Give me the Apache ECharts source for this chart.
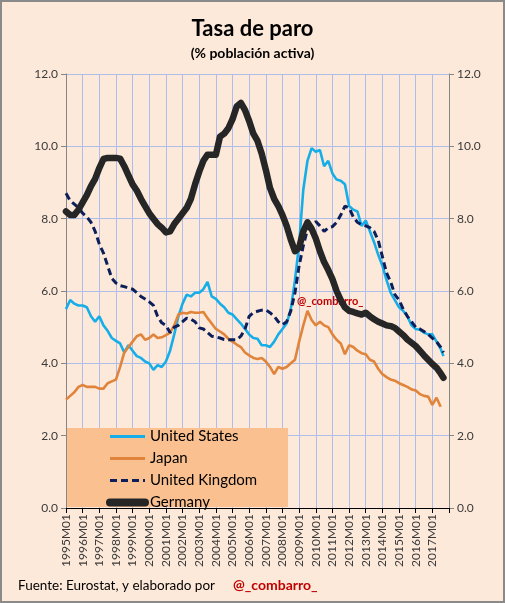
<!DOCTYPE html>
<html>
<head>
<meta charset="utf-8">
<script src="https://cdn.jsdelivr.net/npm/echarts@6/dist/echarts.min.js"></script>
<style>
html,body{margin:0;padding:0;background:#FDE9D9;}
#chart{width:505px;height:603px;}
</style>
</head>
<body>
<div id="chart"></div>
<script>
// Sample months (quarterly readings from the picture)
const months = [];
for (let y = 1995; y <= 2017; y++) {
  ['01','04','07','10'].forEach(function (mm) {
    if (y === 2017 && mm === '10') return;
    months.push(y + 'M' + mm);
  });
}
months.push('2017M09');

const unitedStates = [
  5.5,5.75,5.65,5.6, 5.6,5.55,5.3,5.15, 5.3,5.05,4.9,4.7, 4.62,4.55,4.3,4.5,
  4.35,4.2,4.15,4.05, 4.0,3.82,3.95,3.9, 4.05,4.35,4.8,5.3, 5.65,5.9,5.85,5.95,
  5.95,6.05,6.25,5.85, 5.78,5.65,5.55,5.4, 5.35,5.22,5.1,4.95, 4.8,4.7,4.68,4.5,
  4.5,4.45,4.6,4.8, 4.95,5.1,5.5,6.3, 7.3,8.8,9.6,9.95, 9.85,9.9,9.45,9.6,
  9.25,9.08,9.05,8.95, 8.35,8.25,8.2,7.8, 7.95,7.65,7.35,7.0, 6.7,6.3,5.95,5.75,
  5.55,5.45,5.3,5.05, 4.95,4.93,4.85,4.8, 4.8,4.6,4.4, 4.2
];
const japan = [
  3.0,3.1,3.2,3.35, 3.4,3.35,3.35,3.35, 3.3,3.3,3.45,3.5, 3.55,3.9,4.3,4.45,
  4.6,4.75,4.8,4.65, 4.7,4.8,4.7,4.72, 4.78,4.85,5.05,5.35, 5.4,5.38,5.42,5.4,
  5.4,5.42,5.25,5.1, 4.95,4.88,4.8,4.68, 4.6,4.52,4.45,4.3, 4.22,4.15,4.12,4.15,
  4.05,3.9,3.7,3.9, 3.85,3.9,4.0,4.1, 4.6,5.05,5.45,5.2, 5.05,5.15,5.05,5.0,
  4.8,4.65,4.55,4.25, 4.5,4.45,4.35,4.28, 4.25,4.1,4.05,3.85, 3.7,3.62,3.55,3.52,
  3.45,3.4,3.35,3.28, 3.25,3.15,3.1,3.08, 2.85,3.05,2.8, null
];
const unitedKingdom = [
  8.7,8.5,8.4,8.3, 8.15,8.05,7.9,7.65, 7.3,7.05,6.7,6.35, 6.22,6.15,6.12,6.08,
  6.05,5.95,5.85,5.78, 5.7,5.6,5.3,5.12, 5.05,4.85,5.0,5.05, 5.15,5.25,5.22,5.15,
  4.98,4.95,4.85,4.75, 4.73,4.7,4.66,4.65, 4.65,4.65,4.75,4.95, 5.3,5.4,5.44,5.47,
  5.48,5.4,5.3,5.15, 5.07,5.15,5.45,5.95, 6.7,7.25,7.7,7.8, 7.92,7.8,7.65,7.75,
  7.78,7.9,8.1,8.35, 8.3,8.05,7.9,7.83, 7.8,7.75,7.65,7.4, 6.95,6.5,6.25,5.9,
  5.75,5.5,5.3,5.15, 5.0,4.95,4.88,4.8, 4.7,4.6,4.45, 4.3
];
const germany = [
  8.2,8.1,8.1,8.25, 8.45,8.65,8.9,9.1, 9.4,9.65,9.68,9.68, 9.68,9.66,9.45,9.2,
  8.95,8.78,8.55,8.35, 8.15,8.0,7.85,7.75, 7.62,7.65,7.85,8.0, 8.15,8.3,8.55,8.95,
  9.3,9.6,9.77,9.77, 9.77,10.27,10.35,10.5, 10.75,11.1,11.2,11.0, 10.7,10.35,10.15,9.8,
  9.35,8.85,8.55,8.35, 8.1,7.8,7.42,7.1, 7.2,7.65,7.9,7.72, 7.45,7.1,6.8,6.58,
  6.33,6.0,5.75,5.55, 5.45,5.42,5.38,5.35, 5.4,5.3,5.22,5.15, 5.1,5.05,5.03,4.98,
  4.88,4.78,4.66,4.57, 4.48,4.35,4.22,4.1, 3.98,3.88,3.72, 3.6
];
const seriesNames = ['United States', 'Japan', 'United Kingdom', 'Germany'];
const yTicks = [0, 2, 4, 6, 8, 10, 12];
const firstYear = 1995;

function monthIndex(label) {
  const y = parseInt(label.slice(0, 4), 10);
  const m = parseInt(label.slice(5), 10);
  return (y - firstYear) * 12 + (m - 1);
}
function pairs(values) {
  return months.map(function (lab, i) { return [monthIndex(lab), values[i]]; });
}

const FONT = 'Lato, "Open Sans", sans-serif';
const gridColor = '#aebde9';
const colors = ['#16aee8', '#e0843c', '#0c1f5a', '#262626'];

const chart = echarts.init(document.getElementById('chart'), null, {renderer: 'canvas'});
chart.setOption({
  backgroundColor: '#FDE9D9',
  animation: false,
  textStyle: {fontFamily: FONT},
  title: {
    text: 'Tasa de paro',
    subtext: '(% población activa)',
    left: 'center',
    top: 13,
    itemGap: 6,
    textStyle: {fontFamily: FONT, fontSize: 22, fontWeight: 'bold', color: '#000'},
    subtextStyle: {fontFamily: FONT, fontSize: 14, fontWeight: 'bold', color: '#000'}
  },
  grid: {left: 66, right: 56, top: 74, bottom: 95, containLabel: false},
  xAxis: {
    type: 'value',
    min: 0,
    max: 276,
    interval: 12,
    axisLine: {show: true, onZero: false, lineStyle: {color: '#000', width: 1}},
    axisTick: {show: true, inside: false, length: 5, lineStyle: {color: '#000'}},
    splitLine: {show: true, lineStyle: {color: gridColor, width: 1}},
    axisLabel: {
      rotate: 90,
      margin: 6,
      fontSize: 12,
      color: '#3a3a3a',
      fontFamily: FONT,
      formatter: function (v) {
        if (v >= 276) return '';
        return (firstYear + Math.round(v / 12)) + 'M01';
      }
    }
  },
  yAxis: [
    {
      type: 'value', min: yTicks[0], max: yTicks[yTicks.length - 1], interval: 2,
      position: 'left',
      axisLine: {show: true, lineStyle: {color: '#868686'}},
      axisTick: {show: true, length: 5, lineStyle: {color: '#868686'}},
      splitLine: {show: true, lineStyle: {color: gridColor, width: 1}},
      axisLabel: {fontSize: 12, color: '#3a3a3a', margin: 8, fontFamily: FONT,
        formatter: function (v) { return v.toFixed(1); }}
    },
    {
      type: 'value', min: yTicks[0], max: yTicks[yTicks.length - 1], interval: 2,
      position: 'right',
      axisLine: {show: true, lineStyle: {color: '#868686'}},
      axisTick: {show: true, length: 5, lineStyle: {color: '#868686'}},
      splitLine: {show: false},
      axisLabel: {fontSize: 12, color: '#3a3a3a', margin: 8, fontFamily: FONT,
        formatter: function (v) { return v.toFixed(1); }}
    }
  ],
  legend: {
    orient: 'vertical',
    left: 106,
    top: 429,
    padding: 0,
    itemWidth: 35,
    itemHeight: 14,
    itemGap: 7,
    itemStyle: {opacity: 0},
    textStyle: {fontFamily: FONT, fontSize: 15, color: '#000'},
    data: [
      {name: seriesNames[0], lineStyle: {width: 3}},
      {name: seriesNames[1], lineStyle: {width: 3}},
      {name: seriesNames[2], lineStyle: {width: 3}},
      {name: seriesNames[3], lineStyle: {width: 8, cap: 'round'}}
    ]
  },
  graphic: [
    {type: 'rect', z: 1, shape: {x: 67, y: 428, width: 221, height: 79},
     style: {fill: '#FAC090'}},
    {type: 'text', z: 1, left: 297, top: 296,
     style: {text: '@_combarro_', fill: '#C00000', font: 'bold 11px ' + FONT}},
    {type: 'text', z: 10, left: 18, top: 579,
     style: {text: 'Fuente: Eurostat, y elaborado por', fill: '#000', font: '13.5px ' + FONT}},
    {type: 'text', z: 10, left: 233, top: 578,
     style: {text: '@_combarro_', fill: '#C00000', font: 'bold 14px ' + FONT}},
    {type: 'rect', z: 20, shape: {x: 1, y: 1, width: 503, height: 601},
     style: {fill: 'none', stroke: '#8a8a8a', lineWidth: 2}}
  ],
  series: [
    {name: seriesNames[0], type: 'line', symbol: 'none', z: 3, data: pairs(unitedStates),
     lineStyle: {color: colors[0], width: 2.6}, itemStyle: {color: colors[0]}},
    {name: seriesNames[1], type: 'line', symbol: 'none', z: 3, data: pairs(japan),
     lineStyle: {color: colors[1], width: 2.6}, itemStyle: {color: colors[1]}},
    {name: seriesNames[2], type: 'line', symbol: 'none', z: 4, data: pairs(unitedKingdom),
     lineStyle: {color: colors[2], width: 3, type: [7, 4]}, itemStyle: {color: colors[2]}},
    {name: seriesNames[3], type: 'line', symbol: 'none', z: 5, data: pairs(germany),
     lineStyle: {color: colors[3], width: 6.5, cap: 'round', join: 'round'}, itemStyle: {color: colors[3]}}
  ]
});
</script>
</body>
</html>
